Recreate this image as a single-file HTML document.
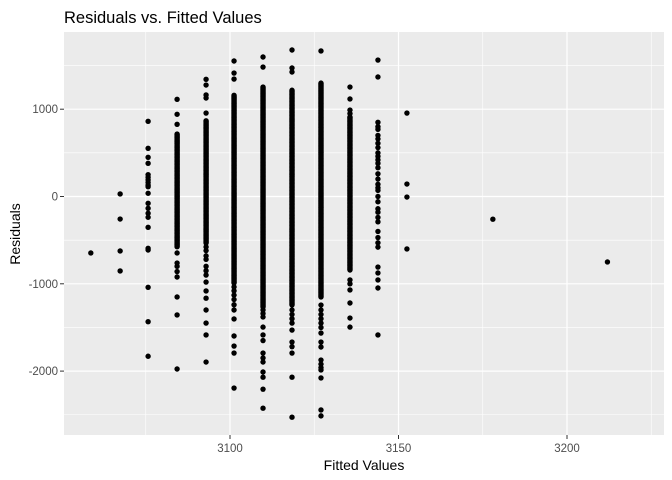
<!DOCTYPE html>
<html><head><meta charset="utf-8"><style>
body{margin:0;background:#fff}
svg{display:block;font-family:"Liberation Sans",Arial,sans-serif}
</style></head><body>
<svg id="chart" width="672" height="480">
<text x="64" y="23" font-size="16.5" fill="#000">Residuals vs. Fitted Values</text>
<rect x="64" y="32" width="600" height="403" fill="#ebebeb"/>
<g id="grid"></g><g id="pts"></g><g id="axes"></g>
<text x="364" y="470" font-size="14" text-anchor="middle">Fitted Values</text>
<text transform="translate(20,234) rotate(-90)" font-size="14" text-anchor="middle">Residuals</text>
</svg>
<script>
const fitted=[3058.7,3067.4,3075.7,3084.3,3092.9,3101.2,3109.8,3118.4,3127,3135.6,3143.9,3152.5,3178,3212];
const points=[
[-647],
[29,-258,-624,-853],
[861,552,449,380,250,220,190,160,130,112,37,-78,-135,-192,-238,-353,-593,-613,-1040,-1434,-1830],
[1113,942,827,-647,-762,-800,-860,-922,-1151,-1357,-1976],
[1342,1277,1163,1128,956,-578,-620,-680,-720,-800,-850,-900,-980,-1082,-1165,-1300,-1450,-1586,-1896],
[1552,1414,1345,-1036,-1080,-1130,-1180,-1240,-1300,-1403,-1598,-1713,-1793,-2194],
[1598,1483,-1300,-1340,-1380,-1496,-1586,-1650,-1793,-1850,-1896,-2010,-2070,-2207,-2425],
[1678,1472,1426,-1300,-1350,-1400,-1450,-1530,-1667,-1720,-1793,-2070,-2528],
[1667,-1243,-1300,-1350,-1400,-1450,-1500,-1564,-1667,-1724,-1873,-1920,-1960,-1987,-2078,-2445,-2513],
[1254,1117,990,950,910,-956,-1000,-1070,-1220,-1392,-1496],
[1563,1369,850,800,770,700,660,610,560,500,460,420,380,330,260,200,140,100,70,0,-60,-140,-180,-240,-290,-400,-470,-530,-580,-808,-876,-956,-1048,-1586],
[956,143,-6,-601],
[-260],
[-750]];
const denseLo=[null,null,null,-575,-533,-991,-1266,-1243,-1151,-842,null,null,null,null];
const denseHi=[null,null,null,724,876,1163,1254,1220,1300,910,null,null,null,null];
const yTicks=[-2000,-1000,0,1000], yMinor=[-2500,-1500,-500,500,1500];
const xTicks=[3100,3150,3200], xMinor=[3075,3125,3175,3225];
const X=v=>230+(v-3100)*3.37, Y=v=>196.5-v*0.0873;
const NS="http://www.w3.org/2000/svg";
function mk(t,a,p){const e=document.createElementNS(NS,t);for(const k in a)e.setAttribute(k,a[k]);document.getElementById(p).appendChild(e);return e;}
yMinor.forEach(v=>{const e=mk('line',{x1:64,x2:664,y1:Y(v),y2:Y(v),stroke:'#fff','stroke-width':0.6},'grid');

});
xMinor.forEach(v=>{const e=mk('line',{x1:X(v),x2:X(v),y1:32,y2:435,stroke:'#fff','stroke-width':0.6},'grid');

});
yTicks.forEach(v=>{const e=mk('line',{x1:64,x2:664,y1:Y(v),y2:Y(v),stroke:'#fff','stroke-width':1.2},'grid');


const t=mk('line',{x1:60,x2:64,y1:Y(v),y2:Y(v),stroke:'#333','stroke-width':1},'axes');


const l=mk('text',{x:58,y:Y(v)+4,'font-size':11.5,fill:'#4d4d4d','text-anchor':'end'},'axes');l.textContent=v;

});
xTicks.forEach(v=>{const e=mk('line',{x1:X(v),x2:X(v),y1:32,y2:435,stroke:'#fff','stroke-width':1.2},'grid');


const t=mk('line',{x1:X(v),x2:X(v),y1:435,y2:439,stroke:'#333','stroke-width':1},'axes');


const l=mk('text',{x:X(v),y:452,'font-size':11.5,fill:'#4d4d4d','text-anchor':'middle'},'axes');l.textContent=v;

});
fitted.forEach((f,i)=>{
 points[i].forEach(r=>{const c=mk('circle',{cx:X(f),cy:Y(r),r:2.7,fill:'#000'},'pts');
 
 });
 if(denseLo[i]!==null){
  for(let r=denseLo[i];r<=denseHi[i];r+=10){const c=mk('circle',{cx:X(f),cy:Y(r),r:2.7,fill:'#000'},'pts');
  
  }
 }
});
</script>
</body></html>
